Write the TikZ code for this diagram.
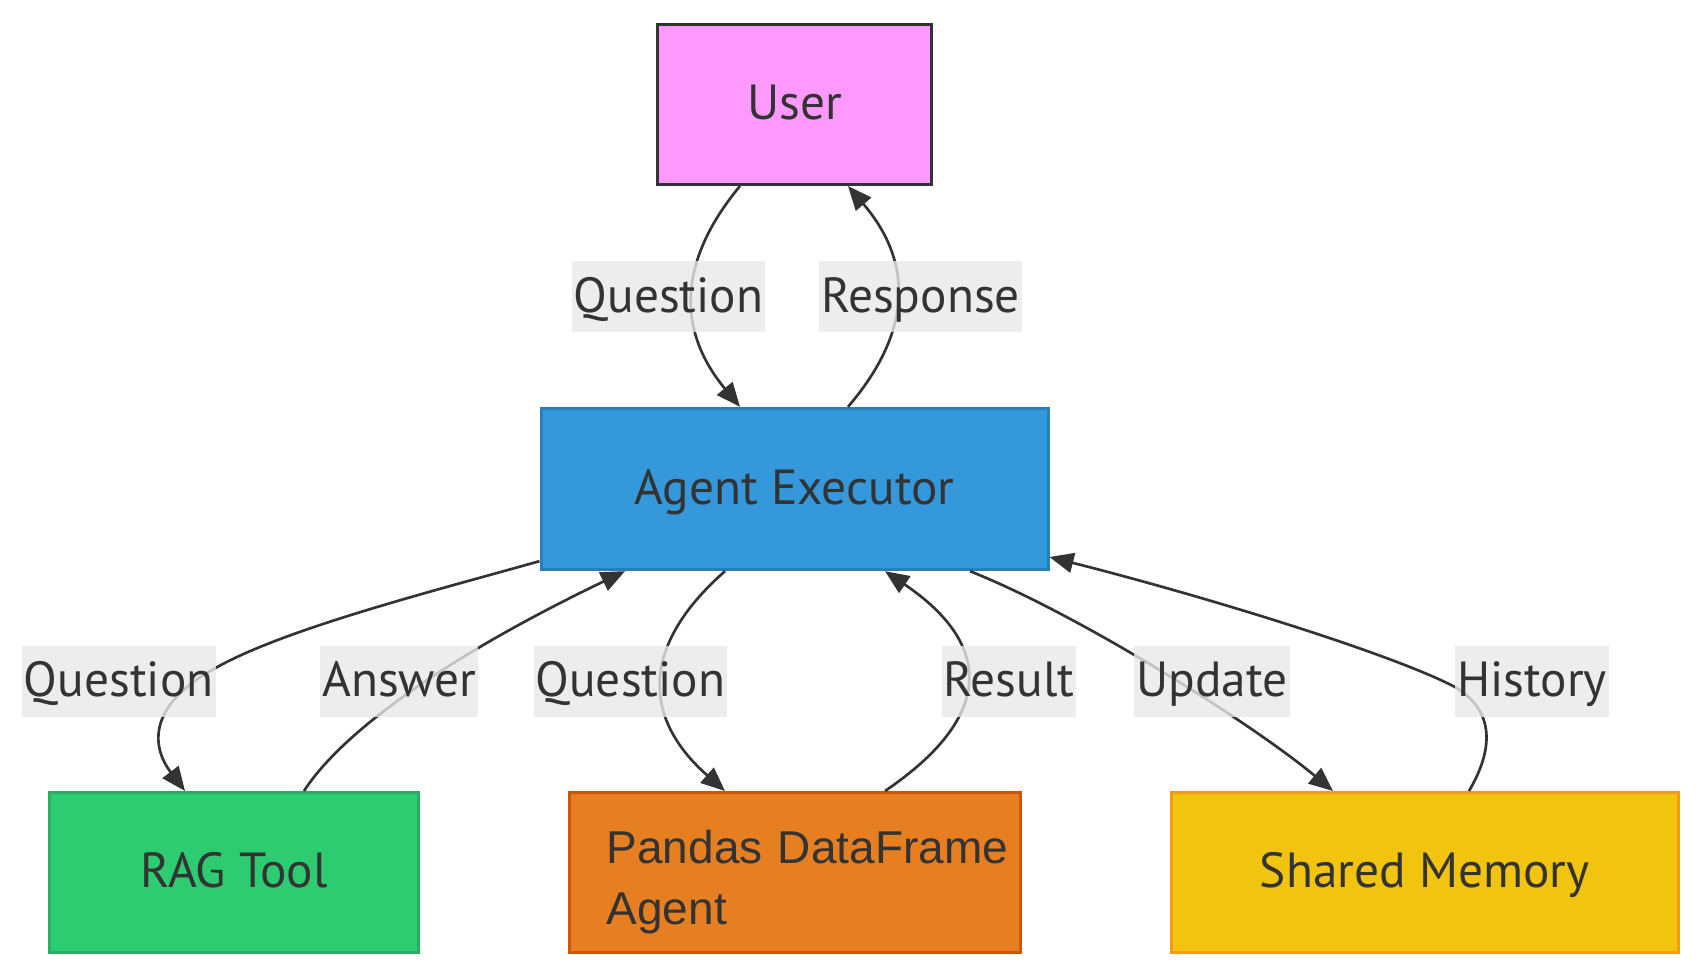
\documentclass[tikz,border=0pt]{standalone}
\usepackage{fontspec}
\setmainfont{PT Sans}
\newfontfamily\pandasfont{Liberation Sans}
\usetikzlibrary{arrows.meta,calc}

\definecolor{txtgray}{HTML}{333333}
\definecolor{lblgray}{HTML}{E8E8E8}
\definecolor{userpink}{HTML}{FF99FF}
\definecolor{agentblue}{HTML}{3498DB}
\definecolor{agentline}{HTML}{2980B9}
\definecolor{raggreen}{HTML}{2ECC71}
\definecolor{ragline}{HTML}{27AE60}
\definecolor{pandasorange}{HTML}{E67E22}
\definecolor{pandasline}{HTML}{D35400}
\definecolor{memyellow}{HTML}{F1C40F}
\definecolor{memline}{HTML}{F39C12}

\begin{document}
\begin{tikzpicture}[x=0.75pt,y=0.75pt,yscale=-1,xscale=1,
  box/.style={draw, line width=2.25pt, inner sep=0pt, text=txtgray,
    font=\fontsize{37}{44}\selectfont, text height=30pt, text depth=7.5pt,
    minimum height=120pt},
  lbl/.style={fill=lblgray, fill opacity=0.8, text opacity=1, text=txtgray,
    font=\fontsize{37}{44}\selectfont, inner xsep=1.5pt, inner ysep=0pt,
    text height=38.25pt, text depth=15pt},
  edge/.style={draw=txtgray, line width=2pt, -{Triangle[length=18pt,width=15pt]}}]
\useasboundingbox (0,0) rectangle (1703,978);

%Shape: Rectangle [user]
\node[box, fill=userpink, draw=txtgray, minimum width=205.5pt] (user) at (794.5,104.5) {User};
%Shape: Rectangle [agent]
\node[box, fill=agentblue, draw=agentline, minimum width=380.25pt, minimum height=121pt] (agent) at (794.5,489) {Agent Executor};
%Shape: Rectangle [rag]
\node[box, fill=raggreen, draw=ragline, minimum width=276.75pt] (rag) at (234,872.5) {RAG Tool};
%Shape: Rectangle [pandas]
\node[box, fill=pandasorange, draw=pandasline, minimum width=338.25pt, text width=282.5pt, align=left,
  text height=, text depth=,
  font=\pandasfont\fontsize{34.5}{45.75}\selectfont] (pandas) at (795,872.5) {\rule{0pt}{39pt}Pandas~DataFrame\\Agent};
%Shape: Rectangle [memory]
\node[box, fill=memyellow, draw=memline, minimum width=380.6pt] (memory) at (1424.75,872.5) {Shared Memory};

%Curves: user <-> agent
\draw[edge] ($(user.south)+(-54.5,0)$) .. controls (677,262) and (677,331) .. ($(agent.north)+(-54.5,0)$);
\draw[edge] ($(agent.north)+(53.5,0)$) .. controls (913,331) and (913,262) .. ($(user.south)+(53.5,0)$);
%Curves: agent <-> rag
\draw[edge] ($(agent.south west)+(0,-10)$) .. controls (430,592) and (280,630) .. (212,670)
  .. controls (150,705) and (150,745) .. ($(rag.north)+(-49,0)$);
\draw[edge] ($(rag.north)+(70,0)$) .. controls (340,735) and (440,660) .. ($(agent.south)+(-169.5,0)$);
%Curves: agent <-> pandas
\draw[edge] ($(agent.south)+(-69.5,0)$) .. controls (641,645) and (641,717) .. ($(pandas.north)+(-70,0)$);
\draw[edge] ($(pandas.north)+(90,0)$) .. controls (994,717) and (994,645) .. ($(agent.south)+(90.5,0)$);
%Curves: agent <-> memory
\draw[edge] ($(agent.south)+(175.5,0)$) .. controls (1080,615) and (1252,723.5) .. ($(memory.north)+(-91.75,0)$);
\draw[edge] ($(memory.north)+(44.25,0)$) .. controls (1492,752) and (1497,712) .. (1455,687)
  .. controls (1390,653) and (1200,595) .. ($(agent.east)+(0,68)$);

% Text Node
\node[lbl] (lquestion) at (668.5,296.5) {Question};
% Text Node
\node[lbl] (lresponse) at (920.5,296.5) {Response};
% Text Node
\node[lbl] (lragq) at (118.75,681) {Question};
% Text Node
\node[lbl] (lanswer) at (399.3,681) {Answer};
% Text Node
\node[lbl] (lpandasq) at (630.4,681) {Question};
% Text Node
\node[lbl] (lresult) at (1009,681) {Result};
% Text Node
\node[lbl] (lupdate) at (1212,681) {Update};
% Text Node
\node[lbl] (lhistory) at (1532,681) {History};

\end{tikzpicture}
\end{document}
